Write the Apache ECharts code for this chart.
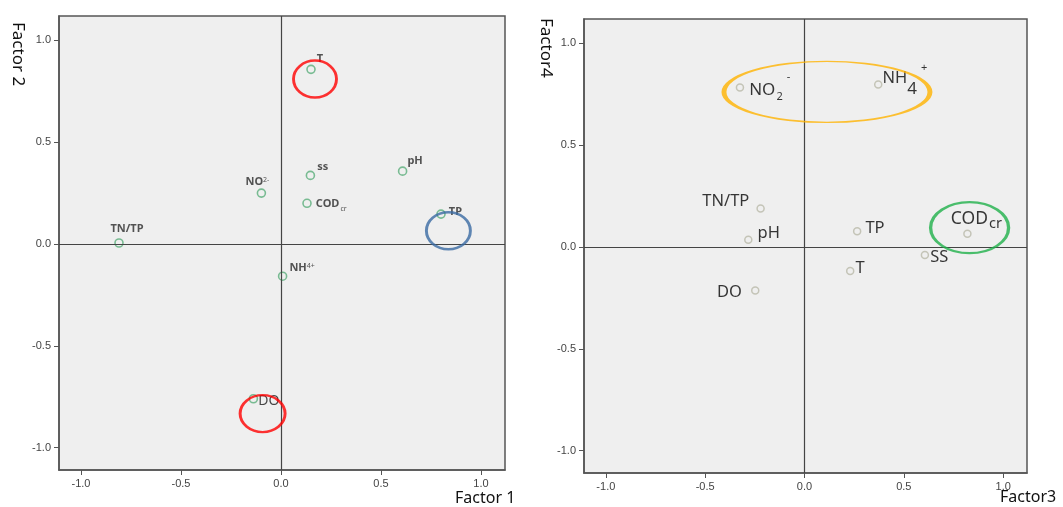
<!DOCTYPE html>
<html><head><meta charset="utf-8">
<script src="https://cdn.jsdelivr.net/npm/echarts@6/dist/echarts.min.js"></script>
<style>html,body{margin:0;padding:0;background:#fff}#c{width:1063px;height:507px}</style>
</head><body><div id="c"></div>
<script>
// ---- data ----
const leftNames = ['T','ss','pH','NO2-','CODcr','TP','TN/TP','NH4+','DO'];
const leftFactor1 = [0.15, 0.147, 0.608, -0.098, 0.13, 0.80, -0.81, 0.008, -0.138];
const leftFactor2 = [0.858, 0.337, 0.358, 0.25, 0.20, 0.147, 0.005, -0.158, -0.76];
const rightNames = ['NO2-','NH4+','TN/TP','pH','TP','CODcr','SS','T','DO'];
const rightFactor3 = [-0.325, 0.371, -0.221, -0.283, 0.265, 0.82, 0.606, 0.23, -0.248];
const rightFactor4 = [0.783, 0.798, 0.189, 0.036, 0.077, 0.065, -0.039, -0.118, -0.213];
const tickValues = [-1.0, -0.5, 0.0, 0.5, 1.0];
const leftHighlightX = [0.17, -0.092, 0.837];
const leftHighlightY = [0.81, -0.833, 0.065];
const rightHighlightX = [0.113, 0.831];
const rightHighlightY = [0.762, 0.095];

// ---- styles ----
const FONT = '"Noto Sans", "Open Sans", sans-serif';
const TICKFONT = '"Liberation Sans", Arial, sans-serif';
const leftHlStyle = [
  {size:[43,37], color:'#ff0000'},
  {size:[45,37], color:'#ff0000'},
  {size:[44,37], color:'#3a6aa3'}
];
const rightHlStyle = [
  {size:[206,61], color:'#ffb300'},
  {size:[78,51], color:'#1fb04a'}
];
const ELLIPSE = 'path://M0,50 A50,50 0 1,1 100,50 A50,50 0 1,1 0,50 Z';

const leftLabelCfg = {
  'T':     {formatter:'{b|T}', position:'right', offset:[-3,-9]},
  'ss':    {formatter:'{b|ss}', position:'right', offset:[-2,-8]},
  'pH':    {formatter:'{b|pH}', position:'right', offset:[-4,-9]},
  'NO2-':  {formatter:'{b|NO}{sup|2-}', position:'top', offset:[-4,5]},
  'CODcr': {formatter:'{b|COD}{sub|cr}', position:'right', offset:[0,2]},
  'TP':    {formatter:'{b|TP}', position:'right', offset:[-1,-1]},
  'TN/TP': {formatter:'{b|TN/TP}', position:'top', offset:[8,2]},
  'NH4+':  {formatter:'{b|NH}{sup|4+}', position:'right', offset:[-2,-7]},
  'DO':    {formatter:'{big|DO}', position:'right', offset:[-4,3]}
};
const rightLabelCfg = {
  'NO2-':  {formatter:'{b2|NO}{sub|2}{sup|-}', position:'right', offset:[0,-7]},
  'NH4+':  {formatter:'{b4|NH}{four|4}{sup|+}', position:'right', offset:[-5,-13]},
  'TN/TP': {formatter:'{b|TN/TP}', position:'left', offset:[-2,-7]},
  'pH':    {formatter:'{b|pH}', position:'right', offset:[0,-6]},
  'TP':    {formatter:'{b|TP}', position:'right', offset:[-1,-3]},
  'CODcr': {formatter:'{bc|COD}{cr|cr}', position:'top', offset:[9,4]},
  'SS':    {formatter:'{b|SS}', position:'right', offset:[-4,3]},
  'T':     {formatter:'{b|T}', position:'right', offset:[-4,-2]},
  'DO':    {formatter:'{b|DO}', position:'left', offset:[-4,2]}
};

function axisCfg(gi) {
  return {
    type:'value', gridIndex:gi, min:-1.11, max:1.12,
    axisLine:{show:true, onZero:false, lineStyle:{color:'#555', width:1.5}},
    axisTick:{show:true, inside:false, length:5, customValues:tickValues, lineStyle:{color:'#555'}},
    axisLabel:{customValues:tickValues, formatter:v=>v.toFixed(1), fontSize:11, color:'#444', fontFamily:TICKFONT, margin:8},
    splitLine:{show:false}
  };
}
const zeroLines = {
  silent:true, symbol:'none', animation:false, label:{show:false},
  lineStyle:{color:'#444', width:1.2, type:'solid'},
  emphasis:{disabled:true},
  data:[{xAxis:0},{yAxis:0}]
};
const LC = '#2a2a2a';
const leftRich = {
  b:{fontSize:11, lineHeight:13, color:LC, fontFamily:FONT, fontWeight:'bold', verticalAlign:'top'},
  sup:{fontSize:7, lineHeight:8, color:LC, fontFamily:FONT, verticalAlign:'top'},
  sub:{fontSize:7, lineHeight:8, color:LC, fontFamily:FONT, verticalAlign:'top', padding:[7,0,0,1]},
  big:{fontSize:14, lineHeight:16, color:'#1a1a1a', fontFamily:FONT, verticalAlign:'top'}
};
const RC = '#050505';
const rightRich = {
  b:{fontSize:16.5, lineHeight:18, color:RC, fontFamily:FONT, verticalAlign:'top'},
  bc:{fontSize:17.5, lineHeight:19, color:RC, fontFamily:FONT, verticalAlign:'top'},
  b2:{fontSize:17, lineHeight:18, color:RC, fontFamily:FONT, verticalAlign:'top', padding:[10,0,0,0]},
  b4:{fontSize:16.5, lineHeight:18, color:RC, fontFamily:FONT, verticalAlign:'top', padding:[7,0,0,0]},
  sub:{fontSize:11, lineHeight:12, color:RC, fontFamily:FONT, verticalAlign:'top', padding:[20,0,0,1]},
  sup:{fontSize:11, lineHeight:12, color:RC, fontFamily:FONT, verticalAlign:'top', padding:[0,0,0,4]},
  four:{fontSize:17, lineHeight:18, color:RC, fontFamily:FONT, verticalAlign:'top', padding:[18,0,0,0]},
  cr:{fontSize:14.5, lineHeight:16, color:RC, fontFamily:FONT, verticalAlign:'top', padding:[7,0,0,1]}
};

const chart = echarts.init(document.getElementById('c'), null, {renderer:'canvas'});
chart.setOption({
  animation:false,
  backgroundColor:'#ffffff',
  grid:[
    {left:59, top:16, width:446, height:454, show:true, backgroundColor:'#efefef', borderColor:'#555', borderWidth:1.5},
    {left:584, top:19, width:443, height:454, show:true, backgroundColor:'#efefef', borderColor:'#555', borderWidth:1.5}
  ],
  xAxis:[axisCfg(0), axisCfg(1)],
  yAxis:[axisCfg(0), axisCfg(1)],
  graphic:[
    {type:'text', x:18, y:22, rotation:-Math.PI/2, style:{text:'Factor 2', fontSize:17, fontFamily:FONT, fill:'#111', textAlign:'left', textVerticalAlign:'middle'}},
    {type:'text', x:546, y:18, rotation:-Math.PI/2, style:{text:'Factor4', fontSize:17, fontFamily:FONT, fill:'#111', textAlign:'left', textVerticalAlign:'middle'}},
    {type:'text', x:455, y:498, style:{text:'Factor 1', fontSize:16, fontFamily:FONT, fill:'#111', textAlign:'left', textVerticalAlign:'middle'}},
    {type:'text', x:1000, y:497, style:{text:'Factor3', fontSize:16, fontFamily:FONT, fill:'#111', textAlign:'left', textVerticalAlign:'middle'}}
  ],
  series:[
    {
      type:'scatter', xAxisIndex:0, yAxisIndex:0, symbol:'circle', symbolSize:8, z:3,
      itemStyle:{color:'rgba(0,0,0,0)', borderColor:'#5aae7b', borderWidth:1.6},
      label:{show:true, distance:4, rich:leftRich},
      data:leftNames.map((n,i)=>({name:n, value:[leftFactor1[i], leftFactor2[i]], label:leftLabelCfg[n]})),
      markLine:zeroLines
    },
    {
      type:'scatter', xAxisIndex:0, yAxisIndex:0, symbol:ELLIPSE, silent:true, z:5,
      itemStyle:{color:'rgba(0,0,0,0)', borderWidth:2.7},
      data:leftHighlightX.map((x,i)=>({value:[x, leftHighlightY[i]], symbolSize:leftHlStyle[i].size, itemStyle:{borderColor:leftHlStyle[i].color}}))
    },
    {
      type:'scatter', xAxisIndex:1, yAxisIndex:1, symbol:'circle', symbolSize:7, z:3,
      itemStyle:{color:'rgba(0,0,0,0)', borderColor:'#b9b9a9', borderWidth:1.5},
      label:{show:true, distance:5, rich:rightRich},
      data:rightNames.map((n,i)=>({name:n, value:[rightFactor3[i], rightFactor4[i]], label:rightLabelCfg[n]})),
      markLine:zeroLines
    },
    {
      type:'scatter', xAxisIndex:1, yAxisIndex:1, symbol:ELLIPSE, silent:true, z:5,
      itemStyle:{color:'rgba(0,0,0,0)', borderWidth:2.7},
      data:rightHighlightX.map((x,i)=>({value:[x, rightHighlightY[i]], symbolSize:rightHlStyle[i].size, itemStyle:{borderColor:rightHlStyle[i].color}}))
    }
  ]
});
</script></body></html>
